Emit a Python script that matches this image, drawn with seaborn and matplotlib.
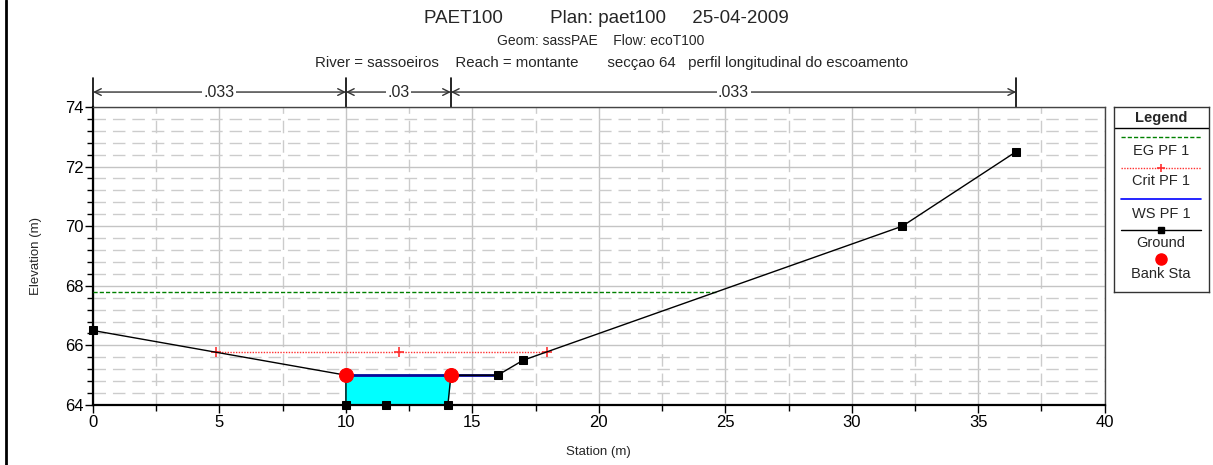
import matplotlib
matplotlib.use("Agg")
import matplotlib.pyplot as plt
import matplotlib.transforms as mtransforms
from matplotlib.ticker import MultipleLocator
import pandas as pd
import seaborn as sns

sns.set_theme(style="white")
plt.rcParams['font.family'] = ['Liberation Sans', 'DejaVu Sans']

## dados da secção
station = [0, 10, 10, 11.6, 14.03, 14.15, 16, 17, 32, 36.5]
ground = [66.5, 65.0, 64.0, 64.0, 64.0, 65.0, 65.0, 65.5, 70.0, 72.5]

bank_x = [10, 14.15]
bank_y = [65.0, 65.0]

eg_x = [0, 24.63]
eg_y = [67.79, 67.79]

crit_x = [4.85, 12.1, 17.93]
crit_y = [65.78, 65.78, 65.78]

ws_x = [10, 16]
ws_y = [65.0, 65.0]

# canal cheio (cyan)
fill_x = [10, 10, 11.6, 14.03, 14.15]
fill_y = [65.0, 64.0, 64.0, 64.0, 65.0]

# coeficientes de manning
n_edges = [0, 10, 14.15, 36.5]
n_values = [".033", ".03", ".033"]

df_ground = pd.DataFrame({"station": station, "elev": ground})

fig = plt.figure(figsize=(12.13, 4.65), dpi=100)
ax = fig.add_axes([0.0767, 0.129, 0.834, 0.641])

ax.fill(fill_x, fill_y, color="#00ffff", zorder=2)
sns.lineplot(x=eg_x, y=eg_y, ax=ax, color="#008000", lw=1, dashes=False,
             linestyle=(0, (3, 1.5)), zorder=3)
ax.plot(crit_x, crit_y, color="#ff3030", lw=1, linestyle=(0, (1, 1)),
        marker="+", ms=7, mew=1.2, zorder=3)
ax.plot(ws_x, ws_y, color="#0a0a9a", lw=2, zorder=4)
sns.lineplot(data=df_ground, x="station", y="elev", ax=ax, sort=False,
             estimator=None, color="black", lw=1, marker="s", ms=6,
             markeredgecolor="black", zorder=5, clip_on=False)
sns.scatterplot(x=bank_x, y=bank_y, ax=ax, color="red", s=100,
                edgecolor="red", zorder=6, clip_on=False)

ax.set_xlim(0, 40)
ax.set_ylim(64, 74)
ax.xaxis.set_major_locator(MultipleLocator(5))
ax.xaxis.set_minor_locator(MultipleLocator(2.5))
ax.yaxis.set_major_locator(MultipleLocator(2))
ax.yaxis.set_minor_locator(MultipleLocator(0.4))
ax.grid(which="major", color="#c4c4c4", lw=1, linestyle="-")
ax.grid(which="minor", color="#cccccc", lw=1, linestyle=(0, (9, 5)))
ax.set_axisbelow(True)
ax.tick_params(which="both", direction="out", bottom=True, left=True,
               labelsize=12, colors="black", pad=1)
ax.tick_params(which="major", length=6, width=1)
ax.tick_params(which="minor", length=4, width=1)
ax.set_xlabel("Station (m)", fontsize=9.5, labelpad=12)
ax.set_ylabel("Elevation (m)", fontsize=9.5, labelpad=16)
for s in ["left", "bottom"]:
    ax.spines[s].set_color("black")
    ax.spines[s].set_linewidth(1.6)
for s in ["top", "right"]:
    ax.spines[s].set_color("#444444")
    ax.spines[s].set_linewidth(1)
if ax.get_legend() is not None:
    ax.get_legend().remove()

# anotações de manning acima do gráfico
trans = mtransforms.blended_transform_factory(ax.transData, ax.transAxes)
for xe in n_edges:
    ax.plot([xe, xe], [1.0, 1.097], transform=trans, color="black", lw=1.2,
            clip_on=False)
for i, lab in enumerate(n_values):
    x0, x1 = n_edges[i], n_edges[i + 1]
    ax.annotate("", xy=(x0, 1.05), xytext=(x1, 1.05), xycoords=trans,
                textcoords=trans,
                arrowprops=dict(arrowstyle="<->", color="#333333", lw=1,
                                shrinkA=0, shrinkB=0))
    ax.text((x0 + x1) / 2, 1.05, lab, transform=trans, ha="center",
            va="center", fontsize=11.5,
            bbox=dict(facecolor="white", edgecolor="none", pad=1))

# títulos
fig.text(0.5, 0.961, "PAET100         Plan: paet100     25-04-2009",
         ha="center", va="center", fontsize=13.5)
fig.text(0.495, 0.912, "Geom: sassPAE    Flow: ecoT100", ha="center",
         va="center", fontsize=10)
fig.text(0.504, 0.865, "River = sassoeiros    Reach = montante       "
         "secçao 64   perfil longitudinal do escoamento", ha="center",
         va="center", fontsize=10.8)

# borda esquerda
fig.add_artist(plt.Line2D([0.005, 0.005], [0, 1], color="black", lw=2))

# legenda
lax = fig.add_axes([0.918, 0.372, 0.0783, 0.398])
lax.set_xlim(0, 1)
lax.set_ylim(0, 1)
lax.set_xticks([])
lax.set_yticks([])
for s in lax.spines.values():
    s.set_color("#333333")
    s.set_linewidth(1)
lax.text(0.5, 0.94, "Legend", ha="center", va="center", fontsize=10.5,
         fontweight="bold")
lax.axhline(0.885, color="black", lw=1)
lx = [0.08, 0.92]
lax.plot(lx, [0.84, 0.84], color="#008000", lw=1, linestyle=(0, (3, 1.5)))
lax.text(0.5, 0.76, "EG PF 1", ha="center", va="center", fontsize=10.5)
lax.plot(lx, [0.67, 0.67], color="#ff3030", lw=1, linestyle=(0, (1, 1)))
lax.plot([0.5], [0.67], color="#ff3030", marker="+", ms=6, mew=1.2)
lax.text(0.5, 0.60, "Crit PF 1", ha="center", va="center", fontsize=10.5)
lax.plot(lx, [0.50, 0.50], color="blue", lw=1.2)
lax.text(0.5, 0.42, "WS PF 1", ha="center", va="center", fontsize=10.5)
lax.plot(lx, [0.335, 0.335], color="black", lw=1)
lax.plot([0.5], [0.335], color="black", marker="s", ms=5)
lax.text(0.5, 0.265, "Ground", ha="center", va="center", fontsize=10.5)
lax.plot([0.5], [0.18], color="red", marker="o", ms=8)
lax.text(0.5, 0.10, "Bank Sta", ha="center", va="center", fontsize=10.5)

plt.savefig("out.png", dpi=100)
